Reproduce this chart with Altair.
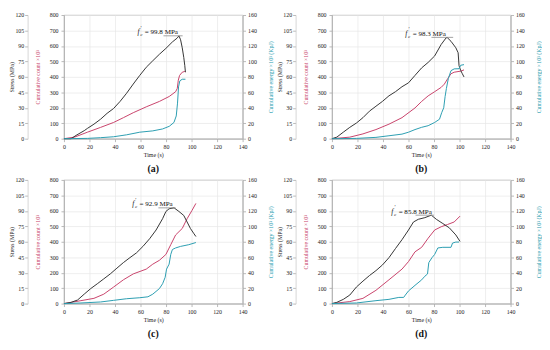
import altair as alt
import pandas as pd

FONT = "Liberation Serif"
C_STRESS = "#333333"
C_COUNT = "#c8416a"
C_ENERGY = "#2a9db0"
GRID = "#e6e6e6"
FRAME = "#a8a8a8"

X_TICKS = [0, 20, 40, 60, 80, 100, 120, 140]
STRESS_TICKS = [0, 15, 30, 45, 60, 75, 90, 105, 120]
COUNT_TICKS = [0, 100, 200, 300, 400, 500, 600, 700, 800]
ENERGY_TICKS = [0, 20, 40, 60, 80, 100, 120, 140, 160]

# ---------------- panel (a) ----------------
a_stress_t = [0, 5.6, 9.5, 15.9, 18.4, 23.5, 28.7, 33.8, 38.9, 44, 49.1, 54.3, 59.4, 64.5, 69.6, 74.8, 79.9, 85, 88.8, 90.1, 91.4, 92.7, 93.9, 94.7, 95.2]
a_stress = [0, 0, 3.2, 7.8, 10.0, 14.1, 18.9, 24.6, 29.3, 36.2, 44.1, 53.0, 61.4, 69.3, 75.6, 81.9, 87.6, 93.9, 97.7, 99.8, 96.0, 88.2, 78.8, 70.8, 64.5]
a_count_t = [0, 8.2, 18.4, 28.7, 38.9, 46.6, 54.3, 64.5, 74.8, 82.5, 87.5, 88.8, 89.6, 90.6, 92.7, 94.7, 95.2]
a_count = [0, 10, 42, 73, 105, 136, 168, 206, 241, 273, 304, 325, 378, 409, 430, 435, 433]
a_energy_t = [0, 18.4, 28.7, 38.9, 49.1, 59.4, 69.6, 77.3, 82.5, 86.2, 88, 89, 89.8, 90.8, 92.7, 95.2]
a_energy = [0, 0.4, 1.3, 2.5, 5.0, 8.4, 10.1, 12.6, 16.0, 21.0, 29.4, 46, 67, 74.8, 76.9, 76.9]

# ---------------- panel (b) ----------------
b_stress_t = [0, 3.8, 8.9, 14, 19.2, 24.3, 29.4, 34.5, 39.6, 44.7, 49.8, 54.9, 60, 65.1, 70.3, 75.4, 80.5, 85.6, 89.4, 90.2, 93.3, 97.1, 98.9, 99.6, 100.9, 102.2, 103.5]
b_stress = [0, 1.5, 6.3, 11.0, 15.2, 20.4, 26.7, 31.5, 36.2, 41.6, 45.6, 50.4, 54.2, 61.4, 68.7, 74.0, 80.3, 91.4, 97.7, 98.3, 94.5, 88.2, 83.4, 70.8, 66.2, 63.0, 59.9]
b_count_t = [0, 14, 24.3, 34.5, 44.7, 54.9, 65.1, 70.3, 75.4, 80.5, 85.6, 88.1, 90.7, 93.3, 95.8, 100.9, 103.5]
b_count = [0, 10, 31, 59, 94, 136, 199, 241, 277, 304, 332, 353, 388, 420, 430, 437, 445]
b_energy_t = [0, 19.2, 34.5, 44.7, 54.9, 60, 65.1, 70.3, 75.4, 80.5, 84.3, 86, 87.6, 88.7, 89.7, 91.2, 93.3, 95.8, 99.6, 100.9, 103.5]
b_energy = [0, 0.4, 1.7, 3.8, 5.9, 8.4, 11.8, 14.7, 16.8, 21, 25.2, 33.6, 40, 54.6, 65, 77.7, 88, 90.3, 90.5, 95, 95.8]

# ---------------- panel (c) ----------------
c_stress_t = [0, 5.6, 10.7, 15.9, 21, 26.1, 31.2, 36.3, 41.5, 46.6, 51.7, 56.8, 61.9, 67.1, 72.2, 77.3, 79.9, 82.4, 86.3, 90.1, 93.9, 96.5, 99.1, 101.6, 103.4]
c_stress = [0, 1.2, 3.5, 9.2, 14.6, 19.2, 24.0, 28.8, 34.4, 39.8, 44.6, 49.2, 55.5, 62.9, 71.4, 82.4, 89.4, 92.0, 92.9, 89.4, 85.5, 79.2, 72.9, 68.3, 65.1]
c_count_t = [0, 13.3, 23.5, 31.2, 38.9, 46.6, 54.3, 64.5, 69.6, 74.8, 79.9, 83.7, 87.5, 92.7, 96.5, 100.3, 103.4]
c_count = [0, 19, 34, 61, 107, 154, 192, 223, 255, 280, 318, 381, 444, 486, 549, 602, 648]
c_energy_t = [0, 13.3, 28.7, 38.9, 49.1, 59.4, 65.8, 69.6, 74.8, 77.3, 79.3, 80.4, 82.4, 83.7, 85, 87.5, 91.4, 97.8, 103.4]
c_energy = [0, 0.8, 2.1, 4.2, 6.3, 7.6, 8.8, 12.2, 19.4, 25.7, 34, 44.6, 51, 63.6, 70, 72, 74, 76.2, 79]

# ---------------- panel (d) ----------------
d_stress_t = [0, 3.8, 8.9, 14, 19.2, 24.3, 29.4, 34.5, 39.6, 44.7, 49.8, 54.9, 60, 63.9, 67.7, 72.8, 77.9, 81.8, 86.9, 92, 97.1, 100.4]
d_stress = [0, 1.2, 4.1, 8.3, 16.1, 21.8, 27.2, 32.0, 37.5, 44.6, 53.4, 62.0, 71.4, 79.2, 81.8, 83.4, 85.8, 81.8, 77.7, 73.5, 66.6, 60.3]
d_count_t = [0, 14, 24.3, 34.5, 44.7, 54.9, 60, 65.1, 70.3, 75.4, 80.5, 85.6, 90.7, 95.8, 100.4]
d_count = [0, 13, 34, 86, 154, 223, 272, 335, 364, 423, 476, 497, 512, 528, 566]
d_energy_t = [0, 19.2, 34.5, 44.7, 52.4, 56.2, 57.5, 60, 65.1, 70.3, 72.8, 74.9, 75.9, 78.4, 80.5, 83, 86.9, 93.3, 94.5, 97.1, 99.6]
d_energy = [0, 0.8, 3.8, 5.5, 8, 8, 11, 16.4, 23.6, 30.7, 35.4, 38.3, 53, 59.4, 63.6, 72, 72.8, 72.8, 78.3, 79.6, 79.6]

# peak strength annotations: label, peak, text start time, underline start/end
labels = ["(a)", "(b)", "(c)", "(d)"]
peaks = [99.8, 98.3, 92.9, 85.8]
text_t = [57.6, 57.5, 53.5, 46.5]
line_t0 = [78, 78, 74, 65.5]
line_t1 = [93, 95, 87.5, 80]

W, H = 182, 126


def xenc(field):
    return alt.X(
        field,
        type="quantitative",
        scale=alt.Scale(domain=[0, 140], nice=False),
        axis=alt.Axis(values=X_TICKS, title="Time (s)", grid=True, labelFlush=False,
                      titlePadding=2, labelPadding=2),
    )


def panel(i, st_t, st_v, ct_t, ct_v, et_t, et_v):
    df_s = pd.DataFrame({"t": st_t, "v": st_v})
    df_c = pd.DataFrame({"t": ct_t, "v": ct_v})
    df_e = pd.DataFrame({"t": et_t, "v": et_v})
    df_a = pd.DataFrame({
        "tf": [text_t[i]], "peak": [peaks[i]], "u0": [line_t0[i]], "u1": [line_t1[i]],
        "eq": [f"= {peaks[i]} MPa"],
    })
    ys = alt.Scale(domain=[0, 120], nice=False)

    count = alt.Chart(df_c).mark_line(color=C_COUNT, strokeWidth=1).encode(
        x=xenc("t"),
        y=alt.Y("v:Q", scale=alt.Scale(domain=[0, 800], nice=False),
                axis=alt.Axis(orient="left", values=COUNT_TICKS, grid=True,
                              title="Cumulative count ×10³", titleColor=C_COUNT,
                              labelPadding=3, titlePadding=9)),
    )
    stress = alt.Chart(df_s).mark_line(color=C_STRESS, strokeWidth=1).encode(
        x=xenc("t"),
        y=alt.Y("v:Q", scale=ys,
                axis=alt.Axis(orient="left", offset=37, values=STRESS_TICKS, grid=False,
                              title="Stress (MPa)", labelPadding=1, titlePadding=0,
                              domainColor="#cccccc")),
    )
    energy = alt.Chart(df_e).mark_line(color=C_ENERGY, strokeWidth=1).encode(
        x=xenc("t"),
        y=alt.Y("v:Q", scale=alt.Scale(domain=[0, 160], nice=False),
                axis=alt.Axis(orient="right", values=ENERGY_TICKS, grid=False,
                              title="Cumulative energy ×10³ (KpJ)", titleColor=C_ENERGY,
                              titleAngle=270, titleBaseline="top",
                              labelPadding=2, titlePadding=11)),
    )
    rule = alt.Chart(df_a).mark_rule(color="#8a8a8a", strokeWidth=0.8).encode(
        x=xenc("u0"), x2="u1:Q", y=alt.Y("peak:Q", scale=ys, axis=None),
    )
    base = alt.Chart(df_a).encode(x=xenc("tf"), y=alt.Y("peak:Q", scale=ys, axis=None))
    t_f = base.mark_text(text="f", font=FONT, fontStyle="italic", fontSize=7.5,
                         align="left", baseline="alphabetic", dy=-1.5, color="#111")
    t_p = base.mark_text(text="′", font=FONT, fontSize=5.5,
                         align="left", baseline="alphabetic", dx=3.2, dy=-6, color="#111")
    t_c = base.mark_text(text="c", font=FONT, fontStyle="italic", fontSize=5,
                         align="left", baseline="alphabetic", dx=2.8, dy=0.5, color="#111")
    t_eq = base.mark_text(font=FONT, fontSize=7.2, align="left", baseline="alphabetic",
                          dx=7.5, dy=-1.5, color="#111").encode(text="eq:N")

    return alt.layer(count, stress, energy, rule, t_f, t_p, t_c, t_eq).resolve_scale(
        y="independent"
    ).properties(
        width=W, height=H,
        title=alt.TitleParams(labels[i], orient="bottom", font=FONT, fontSize=10,
                              fontWeight="bold", offset=7, anchor="middle", color="#111"),
    )


pa = panel(0, a_stress_t, a_stress, a_count_t, a_count, a_energy_t, a_energy)
pb = panel(1, b_stress_t, b_stress, b_count_t, b_count, b_energy_t, b_energy)
pc = panel(2, c_stress_t, c_stress, c_count_t, c_count, c_energy_t, c_energy)
pd_ = panel(3, d_stress_t, d_stress, d_count_t, d_count, d_energy_t, d_energy)

chart = alt.vconcat(
    alt.hconcat(pa, pb, spacing=2),
    alt.hconcat(pc, pd_, spacing=2),
    spacing=1,
).properties(
    padding={"left": 0, "top": 0, "right": 0, "bottom": 0}
).configure_axis(
    labelFont=FONT, titleFont=FONT, labelFontSize=6, titleFontSize=6,
    titleFontWeight="normal", labelColor="#222", titleColor="#222",
    tickColor=FRAME, domainColor=FRAME, tickSize=3, tickWidth=0.8, domainWidth=0.8,
    gridColor=GRID, gridWidth=0.7,
).configure_view(stroke=FRAME, strokeWidth=0.8)

chart.save("out.html", embed_options={"renderer": "svg", "actions": False})
